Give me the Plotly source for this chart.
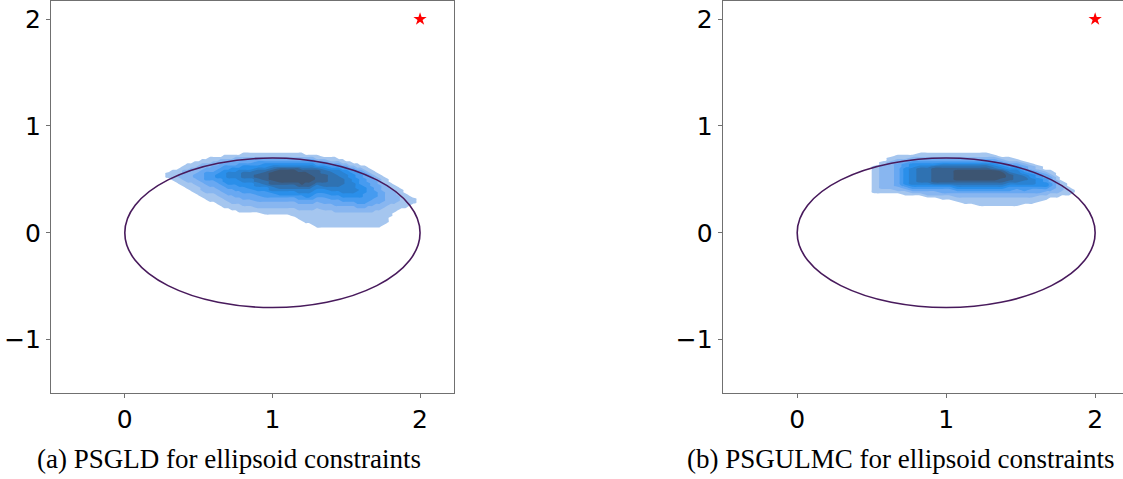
import plotly.graph_objects as go

# ---------------- data ----------------
X_TICKS = [0, 1, 2]
X_TICK_TEXT = ["0", "1", "2"]
Y_TICKS = [-1, 0, 1, 2]
Y_TICK_TEXT = ["\u22121", "0", "1", "2"]

TARGET_POINT = [2.0, 2.0]          # red star
ELLIPSE_CENTER = [1.0, 0.0]
ELLIPSE_SEMI_AXES = [1.0, 0.7]

CAPTIONS = ["(a) PSGLD for ellipsoid constraints",
            "(b) PSGULMC for ellipsoid constraints"]

# density grid rows (y values), from top (0.80) to bottom (0.00)
GRID_Y = [0.80, 0.78, 0.76, 0.74, 0.72, 0.70, 0.68, 0.66, 0.64, 0.62, 0.60, 0.58,
          0.56, 0.54, 0.52, 0.50, 0.48, 0.46, 0.44, 0.42, 0.40, 0.38, 0.36, 0.34,
          0.32, 0.30, 0.28, 0.26, 0.24, 0.22, 0.20, 0.18, 0.16, 0.14, 0.12, 0.10,
          0.08, 0.06, 0.04, 0.02, 0.00]

# KDE level per grid cell (0 = below threshold ... 9 = densest).
# One entry per x column: (number of empty rows from the top, levels going down);
# rows below the listed levels are empty.
PSGLD_GRID_X = [0.20, 0.25, 0.30, 0.325, 0.35, 0.375, 0.40, 0.425, 0.45, 0.475, 0.50,
                0.525, 0.55, 0.575, 0.60, 0.625, 0.65, 0.675, 0.70, 0.725, 0.75, 0.775,
                0.80, 0.85, 0.90, 0.95, 1.00, 1.05, 1.10, 1.15, 1.175, 1.20, 1.225,
                1.25, 1.275, 1.30, 1.35,
                1.40, 1.425, 1.45, 1.475, 1.50, 1.525, 1.55, 1.575, 1.60, 1.625, 1.65,
                1.675, 1.70, 1.725, 1.75, 1.775, 1.80, 1.825, 1.85, 1.875, 1.90, 1.925,
                1.95, 2.00]
PSGLD_DENSITY = [
    (0, ""),
    (0, ""),
    (12, "111"),
    (11, "11111"),
    (11, "111111"),
    (10, "11122111"),
    (9, "1122222111"),
    (8, "111222222111"),
    (8, "1122222221111"),
    (7, "111222332221111"),
    (7, "1122233332221111"),
    (6, "112223333332222111"),
    (6, "1122334444332222111"),
    (5, "111223344443332221111"),
    (5, "112233344443332221111"),
    (5, "1122334455443332221111"),
    (5, "12233445554443332221111"),
    (4, "1122344555555443332221111"),
    (4, "1123344566655544333222111"),
    (4, "11233455666555443332222111"),
    (4, "12233455666555444333222111"),
    (4, "122344566666555443332221111"),
    (3, "1123345567776655444333222111"),
    (3, "1123345567776655544333222111"),
    (3, "1123445677887766554433322211"),
    (3, "11234556788887765544433222111"),
    (3, "11234567899998876654433222111"),
    (3, "11234568999999877655433222111"),
    (3, "11234568999999877655433222111"),
    (3, "112345689999998776554332221111"),
    (3, "1123456889999988766544332221111"),
    (3, "11234567899999987665443322211111"),
    (4, "12345678999998876655433222111111"),
    (4, "12345678899998876655433222111111"),
    (4, "123456788899887665544332221111111"),
    (4, "1123457888888766554433222111111111"),
    (5, "123456778888776554433322211111111"),
    (5, "112345677777776655443322211111111"),
    (5, "112345667777776655443332221111111"),
    (6, "12345666777776655443332221111111"),
    (6, "11234566677766665544332221111111"),
    (7, "1234556666666665544332221111111"),
    (7, "1123455566666665544332221111111"),
    (8, "123445555666665544332221111111"),
    (8, "112344455555655544433221111111"),
    (9, "12334444455555544433221111111"),
    (9, "11233344445554444433221111111"),
    (10, "1123333444444444332221111111"),
    (11, "112333334444443332221111111"),
    (12, "11223333344433322211111111"),
    (13, "1122233333333322211111111"),
    (14, "11122223333322211111111"),
    (15, "111222222222211111111"),
    (17, "1112222222111111"),
    (18, "1112222221111"),
    (19, "11112221111"),
    (20, "111111111"),
    (22, "1111111"),
    (23, "11111"),
    (24, "111"),
    (0, ""),
]

PSGULMC_GRID_X = [0.425, 0.475, 0.525, 0.575, 0.625, 0.675, 0.725, 0.775, 0.825, 0.875,
                  0.925, 0.975, 1.025, 1.075, 1.125, 1.175, 1.225, 1.275, 1.325, 1.375,
                  1.425, 1.475, 1.525, 1.575, 1.625, 1.675, 1.70, 1.725, 1.75, 1.775,
                  1.80, 1.825, 1.85, 1.875, 1.925, 1.975]
PSGULMC_DENSITY = [
    (0, ""),
    (0, ""),
    (9, "1111111111111"),
    (7, "112222222222211"),
    (5, "11222222222222211"),
    (4, "112233333333333221"),
    (4, "1123445555555543211"),
    (4, "1234556666666654321"),
    (3, "11234567777777654321"),
    (3, "112345677777776543221"),
    (3, "112345788888887543221"),
    (3, "1123467888888875433211"),
    (3, "1123467888888875433211"),
    (3, "11234678999998765432211"),
    (3, "112346789999987654322111"),
    (3, "112346789999987654322111"),
    (3, "1123467899999876543221111"),
    (3, "1123467899999876543221111"),
    (4, "123456799999876543221111"),
    (5, "12345689998876543221111"),
    (5, "11234567888765443221111"),
    (6, "1234566777765433221111"),
    (7, "12334567766544322111"),
    (8, "1223455666543322111"),
    (9, "11234455554332111"),
    (11, "12334455432211"),
    (11, "1123334433211"),
    (12, "112233332211"),
    (14, "1122222211"),
    (16, "1122211"),
    (17, "111111"),
    (19, "1111"),
    (20, "11"),
    (0, ""),
    (0, ""),
    (0, ""),
]

LEVEL_COLORS = ["rgba(255,255,255,0)", "#a5c6ef", "#88b6f0", "#68a8f2", "#469bf0",
                "#2a8fea", "#2a82d2", "#2f72b2", "#376290", "#3d5572"]

# ---------------- figure ----------------
n_lev = len(LEVEL_COLORS) - 1
colorscale = []
for k, c in enumerate(LEVEL_COLORS):
    lo = max(0.0, (k - 0.5) / n_lev)
    hi = min(1.0, (k + 0.5) / n_lev)
    colorscale.append([lo, c])
    colorscale.append([hi, c])


def density_matrix(gx, cols):
    assert len(gx) == len(cols), (len(gx), len(cols))
    n = len(GRID_Y)
    full = []
    for skip, levels in cols:
        s = ("0" * skip + levels).ljust(n, "0")
        assert len(s) == n, (skip, levels)
        full.append(s)
    # rows in increasing y
    return [[int(c[i]) for c in full] for i in reversed(range(n))]


fig = go.Figure()

panels = [
    dict(gx=PSGLD_GRID_X, dens=PSGLD_DENSITY, xa="x", ya="y"),
    dict(gx=PSGULMC_GRID_X, dens=PSGULMC_DENSITY, xa="x2", ya="y2"),
]

for p in panels:
    fig.add_trace(go.Contour(
        x=p["gx"], y=GRID_Y[::-1], z=density_matrix(p["gx"], p["dens"]),
        zmin=0, zmax=n_lev, autocontour=False,
        contours=dict(start=0.5, end=n_lev - 0.5, size=1, coloring="fill", showlines=False),
        line=dict(width=0, smoothing=1.0),
        colorscale=colorscale, showscale=False, hoverinfo="skip",
        xaxis=p["xa"], yaxis=p["ya"],
    ))
    fig.add_trace(go.Scatter(
        x=[TARGET_POINT[0]], y=[TARGET_POINT[1]], mode="markers",
        marker=dict(symbol="star", size=10, color="#ff0000", line=dict(width=0)),
        xaxis=p["xa"], yaxis=p["ya"], hoverinfo="skip",
    ))
    fig.add_shape(
        type="circle", xref=p["xa"], yref=p["ya"],
        x0=ELLIPSE_CENTER[0] - ELLIPSE_SEMI_AXES[0], x1=ELLIPSE_CENTER[0] + ELLIPSE_SEMI_AXES[0],
        y0=ELLIPSE_CENTER[1] - ELLIPSE_SEMI_AXES[1], y1=ELLIPSE_CENTER[1] + ELLIPSE_SEMI_AXES[1],
        line=dict(color="#481a5c", width=1.6), layer="above",
    )

W, H = 1123, 479
tick_font = dict(family="DejaVu Sans", size=25, color="black")
axis_common = dict(showgrid=False, zeroline=False, showline=True, linecolor="#707070",
                   linewidth=1, ticks="outside", ticklen=4, tickcolor="#707070",
                   tickfont=tick_font)

ydom = [1 - 393 / H, 1 - 1 / H]
fig.update_layout(
    width=W, height=H, autosize=False,
    margin=dict(l=0, r=0, t=0, b=0),
    paper_bgcolor="white", plot_bgcolor="white", showlegend=False,
    xaxis=dict(domain=[51 / W, 454 / W], range=[-0.5, 2.23], tickvals=X_TICKS,
               ticktext=X_TICK_TEXT, mirror=True, anchor="y", **axis_common),
    yaxis=dict(domain=ydom, range=[-1.5, 2.17], tickvals=Y_TICKS,
               ticktext=Y_TICK_TEXT, mirror=True, anchor="x", **axis_common),
    xaxis2=dict(domain=[722.7 / W, 1.0], range=[-0.5, 2.187], tickvals=X_TICKS,
                ticktext=X_TICK_TEXT, mirror=True, anchor="y2", **axis_common),
    yaxis2=dict(domain=ydom, range=[-1.5, 2.17], tickvals=Y_TICKS,
                ticktext=Y_TICK_TEXT, mirror=False, anchor="x2", **axis_common),
)

for cap, xc in zip(CAPTIONS, [229 / W, 900 / W]):
    fig.add_annotation(text=cap, xref="paper", yref="paper", x=xc, y=1 - 459 / H,
                       xanchor="center", yanchor="middle", showarrow=False,
                       font=dict(family="Liberation Serif", size=27, color="black"))

fig.write_html("out.html",
               config={"displayModeBar": False},
               post_script="document.body.style.margin='0px';"
                           "document.body.style.overflow='hidden';")
